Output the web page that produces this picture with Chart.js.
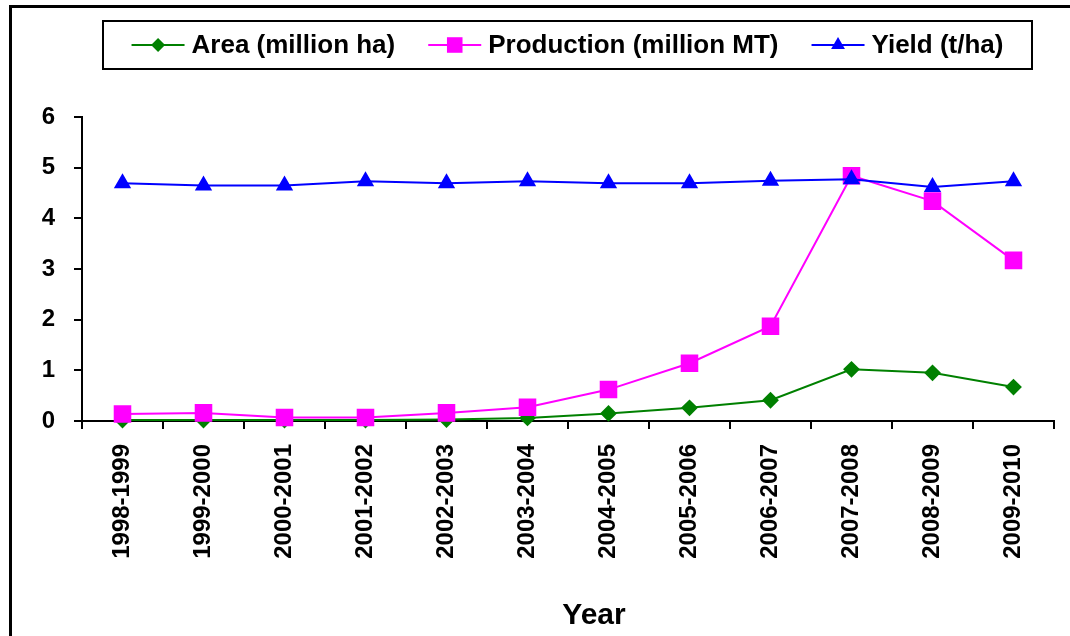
<!DOCTYPE html>
<html>
<head>
<meta charset="utf-8">
<script src="https://cdn.jsdelivr.net/npm/chart.js@4/dist/chart.umd.min.js"></script>
<style>
  html, body { margin: 0; padding: 0; background: #fff; }
  #wrap { width: 1070px; height: 636px; position: relative; }
</style>
</head>
<body>
<div id="wrap"><canvas id="myChart" width="1070" height="636"></canvas></div>
<script>
var years = ['1998-1999', '1999-2000', '2000-2001', '2001-2002', '2002-2003', '2003-2004',
  '2004-2005', '2005-2006', '2006-2007', '2007-2008', '2008-2009', '2009-2010'];
var areaData = [0.02, 0.02, 0.02, 0.02, 0.03, 0.06, 0.15, 0.26, 0.41, 1.02, 0.95, 0.67];
var productionData = [0.14, 0.16, 0.07, 0.07, 0.16, 0.27, 0.62, 1.14, 1.87, 4.84, 4.34, 3.17];
var yieldData = [4.69, 4.65, 4.65, 4.73, 4.69, 4.73, 4.69, 4.69, 4.74, 4.77, 4.62, 4.73];
var yTicks = [0, 1, 2, 3, 4, 5, 6];
var xTitle = 'Year';

var FONT = '"Liberation Sans", Arial, sans-serif';

//===========================================
//   frame, legend and axis title drawn by hand
//===========================================
var framePlugin = {
  id: 'frame',
  afterDraw: function (chart) {
    var ctx = chart.ctx;
    ctx.save();
    // outer frame (cut off at right and bottom)
    ctx.strokeStyle = '#000';
    ctx.lineWidth = 3;
    ctx.beginPath();
    ctx.moveTo(10.5, 640);
    ctx.lineTo(10.5, 6.5);
    ctx.lineTo(1075, 6.5);
    ctx.stroke();

    // legend box
    var box = { x: 103, y: 21, w: 929, h: 48 };
    ctx.lineWidth = 2;
    ctx.strokeRect(box.x, box.y, box.w, box.h);

    ctx.font = 'bold 26px ' + FONT;
    ctx.textBaseline = 'middle';
    ctx.textAlign = 'left';
    var items = chart.data.datasets;
    var lineLen = 53, gapText = 7, gapItem = 33;
    var total = 0;
    items.forEach(function (ds, i) {
      total += lineLen + gapText + ctx.measureText(ds.label).width;
      if (i < items.length - 1) total += gapItem;
    });
    var x = box.x + (box.w - total) / 2;
    var cy = box.y + box.h / 2;
    items.forEach(function (ds) {
      ctx.strokeStyle = ds.borderColor;
      ctx.fillStyle = ds.backgroundColor;
      ctx.lineWidth = 2;
      ctx.beginPath();
      ctx.moveTo(x, cy);
      ctx.lineTo(x + lineLen, cy);
      ctx.stroke();
      Chart.helpers.drawPoint(ctx, {
        pointStyle: ds.pointStyle, radius: ds.pointRadius, rotation: 0, borderWidth: 0
      }, x + lineLen / 2, cy);
      ctx.fillStyle = '#000';
      ctx.fillText(ds.label, x + lineLen + gapText, cy + 1);
      x += lineLen + gapText + ctx.measureText(ds.label).width + gapItem;
    });

    // x axis title, sits a little right of the plot centre
    ctx.font = 'bold 30px ' + FONT;
    ctx.textAlign = 'center';
    ctx.textBaseline = 'alphabetic';
    ctx.fillStyle = '#000';
    ctx.fillText(xTitle, 594, 624);
    ctx.restore();
  }
};

var ctx = document.getElementById('myChart').getContext('2d');
var chart = new Chart(ctx, {
  type: 'line',
  data: {
    labels: years,
    datasets: [{
      label: 'Area (million ha)',
      data: areaData,
      borderColor: '#008000',
      backgroundColor: '#008000',
      pointStyle: 'rectRot',
      pointRadius: 7,
      pointHoverRadius: 7,
      borderWidth: 2,
      lineTension: 0,
      fill: false,
      clip: false,
      order: 3
    }, {
      label: 'Production (million MT)',
      data: productionData,
      borderColor: '#FF00FF',
      backgroundColor: '#FF00FF',
      pointStyle: 'rect',
      pointRadius: 11,
      pointHoverRadius: 11,
      borderWidth: 2,
      lineTension: 0,
      fill: false,
      clip: false,
      order: 2
    }, {
      label: 'Yield (t/ha)',
      data: yieldData,
      borderColor: '#0000FF',
      backgroundColor: '#0000FF',
      pointStyle: 'triangle',
      pointRadius: 8,
      pointHoverRadius: 8,
      borderWidth: 2,
      lineTension: 0,
      fill: false,
      clip: false,
      order: 1
    }]
  },
  options: {
    responsive: false,
    animation: false,
    devicePixelRatio: 1,
    layout: { padding: { left: 10, right: 16, top: 117, bottom: 0 } },
    plugins: {
      legend: { display: false },
      tooltip: { enabled: false }
    },
    elements: { point: { borderWidth: 0 } },
    scales: {
      x: {
        offset: true,
        grid: { offset: true, drawOnChartArea: false, tickLength: 8, color: '#000', lineWidth: 2 },
        border: { color: '#000', width: 2 },
        ticks: {
          color: '#000',
          font: { family: FONT, size: 24, weight: 'bold' },
          minRotation: 90, maxRotation: 90,
          padding: 15,
          autoSkip: false
        },
        afterFit: function (scale) { scale.height = 215; }
      },
      y: {
        min: 0,
        max: 6,
        afterBuildTicks: function (scale) {
          scale.ticks = yTicks.map(function (v) { return { value: v }; });
        },
        grid: { drawOnChartArea: false, tickLength: 8, color: '#000', lineWidth: 2 },
        border: { color: '#000', width: 2 },
        ticks: {
          color: '#000',
          font: { family: FONT, size: 24, weight: 'bold' },
          padding: 19
        },
        afterFit: function (scale) { scale.width = 72; }
      }
    }
  },
  plugins: [framePlugin]
});
</script>
</body>
</html>
